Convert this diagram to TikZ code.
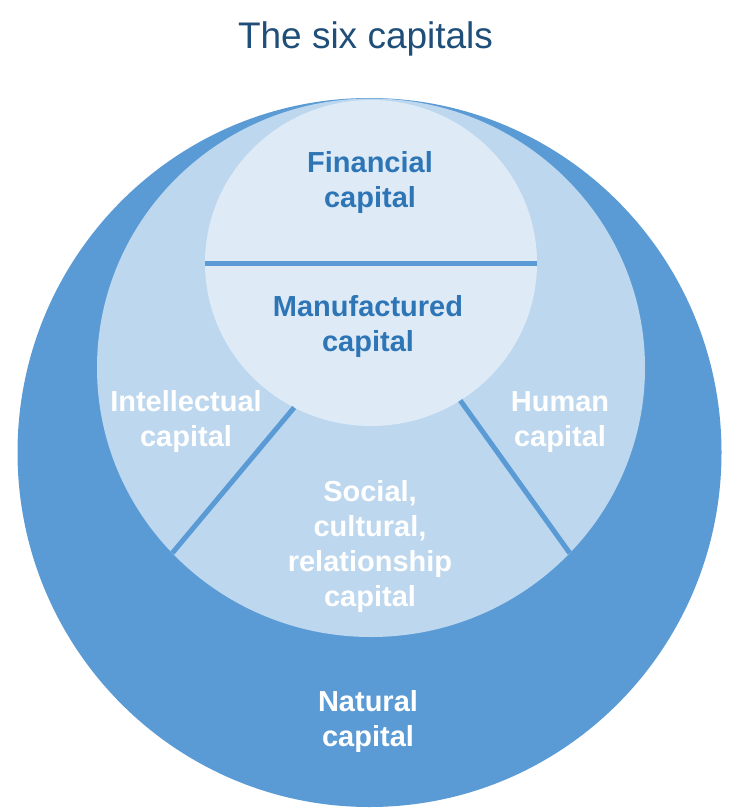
\documentclass[tikz,border=0pt]{standalone}
\usepackage{fontspec}
\setmainfont{Liberation Sans}
\usetikzlibrary{shapes.geometric}
\definecolor{outerblue}{HTML}{5B9BD5}
\definecolor{midblue}{HTML}{BDD7EE}
\definecolor{innerblue}{HTML}{DEEBF7}
\definecolor{textblue}{HTML}{2E75B6}
\definecolor{titleblue}{HTML}{1F4E79}
\begin{document}
\begin{tikzpicture}[x=1pt,y=-1pt,
  region/.style={ellipse,inner sep=0pt,outer sep=0pt,draw=none},
  divider/.style={draw=outerblue,line width=5pt},
  lbl/.style={font=\bfseries\fontsize{29}{35}\selectfont,align=center,anchor=base,inner sep=0pt},
  inlbl/.style={lbl,text=textblue},
  outlbl/.style={lbl,text=white}]
\useasboundingbox[fill=white] (0,0) rectangle (735,808);
\node[region,fill=outerblue,minimum width=704pt,minimum height=709pt] (outer) at (369.5,452.5) {};
\node[region,fill=midblue,minimum width=548pt,minimum height=538.5pt] (middle) at (371,367.75) {};
\node[region,fill=innerblue,minimum width=332pt,minimum height=326pt] (inner) at (371,263) {};
\draw[divider] (inner.west) -- (inner.east);
\draw[divider] (inner.-118.45) -- (middle.223.96);
\draw[divider] (inner.-57) -- (middle.-43.2);
\node[font=\fontsize{37}{44}\selectfont,text=titleblue,anchor=base,inner sep=0pt] (title) at (365.5,48.3) {The six capitals};
\node[inlbl] (fin) at (370,207.7) {Financial\\capital};
\node[inlbl] (man) at (368,351.7) {Manufactured\\capital};
\node[outlbl] (int) at (186,446.7) {Intellectual\\capital};
\node[outlbl] (hum) at (560,446.7) {Human\\capital};
\node[outlbl] (soc) at (370,606.7) {Social,\\cultural,\\relationship\\capital};
\node[outlbl] (nat) at (368,746.7) {Natural\\capital};
\end{tikzpicture}
\end{document}
